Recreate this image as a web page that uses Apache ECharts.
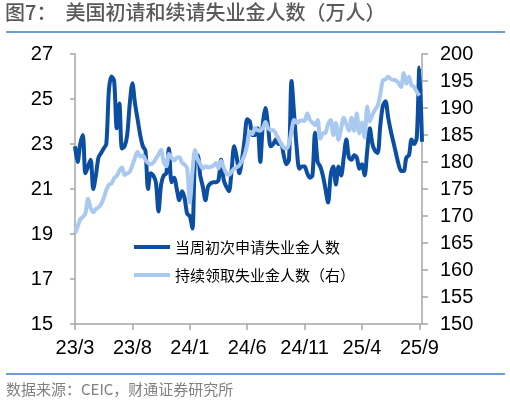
<!DOCTYPE html>
<html>
<head>
<meta charset="utf-8">
<script src="https://cdn.jsdelivr.net/npm/echarts@6/dist/echarts.min.js"></script>
<style>
html,body{margin:0;padding:0;background:#fff;}
#chart{width:510px;height:404px;}
</style>
</head>
<body>
<div id="chart"></div>
<script>
// Weekly data, first week ending 2023-03-04
var startDate = '2023-03-04';
var weekCount = 134;

var seriesNames = ['当周初次申请失业金人数', '持续领取失业金人数（右）'];

// 当周初次申请失业金人数（万人，左轴）
var initialClaims = [
  22.9, 22.2, 23.0, 23.4, 21.7, 22.0, 22.3, 21.0, 21.6, 22.4,
  22.6, 22.8, 23.0, 25.4, 26.0, 25.8, 23.7, 24.8, 22.8, 22.9,
  23.4, 24.8, 25.7, 24.8, 24.1, 23.4, 22.9, 22.7, 21.0, 21.7,
  21.6, 21.3, 20.0, 21.2, 21.6, 21.7, 22.8, 21.3, 21.5, 21.0,
  20.5, 20.9, 20.6, 19.9, 19.8, 19.25, 22.4, 22.5, 21.6, 21.1,
  20.5, 21.1, 21.25, 21.3, 21.3, 21.4, 22.3, 21.4, 21.1, 20.9,
  21.8, 22.9, 22.4, 21.7, 22.3, 23.2, 24.1, 24.0, 23.4, 23.4,
  23.7, 22.2, 23.9, 24.6, 23.8, 22.9, 23.0, 23.2, 23.0, 23.0,
  22.5, 22.1, 22.3, 25.8, 24.3, 22.8, 21.9, 22.0, 22.0, 21.7,
  21.5, 21.6, 23.5, 22.2, 22.0, 21.6, 21.0, 20.4, 21.6, 22.0,
  21.2, 22.0, 21.6, 22.4, 23.2, 22.4, 22.3, 22.5, 22.4, 21.9,
  22.1, 21.6, 22.7, 23.7, 23.0, 22.7, 22.6, 23.8, 24.7, 24.9,
  24.2, 23.6, 23.1, 22.6, 22.1, 21.8, 21.8, 22.4, 22.5, 23.2,
  23.0, 23.3, 26.4, 23.1
];

// 持续领取失业金人数（万人，右轴）
var continuingClaims = [
  166.8, 168.0, 169.4, 169.8, 170.5, 173.2, 171.5, 170.7, 171.3, 171.6,
  172.2, 173.3, 174.8, 175.8, 176.0, 177.0, 177.4, 178.4, 179.0, 177.6,
  177.9, 178.2, 179.4, 180.8, 181.9, 181.0, 181.2, 180.4, 179.8, 179.6,
  179.9, 180.6, 181.4, 182.2, 180.0, 179.2, 181.5, 180.8, 180.3, 180.8,
  180.9, 179.9, 179.5, 178.8, 172.5, 178.0, 182.2, 180.5, 179.6, 178.8,
  179.2, 179.0, 179.1, 179.3, 179.8, 178.8, 180.2, 179.0, 177.9, 177.6,
  178.2, 178.8, 179.0, 179.4, 180.2, 181.3, 183.2, 185.6, 185.2, 186.3,
  185.9, 185.8, 186.3, 187.4, 186.3, 185.9, 185.9, 185.2, 184.3, 183.4,
  182.7, 182.5, 183.3, 185.8, 187.8, 187.2, 187.6, 187.7, 187.6, 189.0,
  187.8, 187.3, 186.8, 187.8, 184.3, 185.3, 185.4, 187.0, 187.8, 185.0,
  187.2, 184.1, 186.2, 188.2, 187.0, 185.8, 188.2, 185.8, 189.0, 185.3,
  187.3, 184.6, 190.3, 187.5, 188.7, 189.7, 190.4, 192.5, 195.1, 195.3,
  195.8, 195.4, 195.2, 195.1, 194.6, 193.9, 196.5, 194.5, 195.8, 194.2,
  193.9, 193.0, 192.3, null
];

// weekly category dates
var categories = [];
(function () {
  var t0 = Date.parse(startDate + 'T00:00:00Z');
  for (var i = 0; i < weekCount; i++) {
    var d = new Date(t0 + i * 7 * 86400000);
    categories.push(d.toISOString().slice(0, 10));
  }
})();

function fmtLabel(v) {
  var p = v.split('-');
  return (parseInt(p[0], 10) % 100) + '/' + parseInt(p[1], 10);
}

var axisGrey = '#a6a6a6';
var numFont = 'Liberation Sans, Arial, sans-serif';
var cjkFont = 'Noto Sans CJK SC, sans-serif';

var chart = echarts.init(document.getElementById('chart'), null, {renderer: 'canvas'});
chart.setOption({
  backgroundColor: '#fff',
  animation: false,
  grid: {left: 75, right: 88, top: 54, bottom: 80, containLabel: false},
  graphic: [
    {type: 'text', left: 5, top: 2, style: {text: '图7：  美国初请和续请失业金人数（万人）', fill: '#595959', font: '500 20px ' + cjkFont}},
    {type: 'line', shape: {x1: 6, y1: 32, x2: 505, y2: 32}, style: {stroke: '#3d7cc9', lineWidth: 1.5}},
    {type: 'line', shape: {x1: 6, y1: 374, x2: 505, y2: 374}, style: {stroke: '#3d7cc9', lineWidth: 1.5}},
    {type: 'text', left: 6, top: 382, style: {text: '数据来源：CEIC，财通证券研究所', fill: '#808080', font: '15px ' + cjkFont}}
  ],
  legend: {
    orient: 'vertical',
    left: 134,
    top: 237,
    padding: 0,
    itemGap: 8,
    itemWidth: 36,
    itemHeight: 4,
    icon: 'rect',
    textStyle: {color: '#000', fontSize: 15, fontFamily: cjkFont, lineHeight: 20},
    data: seriesNames
  },
  xAxis: {
    type: 'category',
    data: categories,
    boundaryGap: false,
    axisLine: {lineStyle: {color: axisGrey, width: 1.5}},
    axisTick: {show: true, interval: 21, length: 6, lineStyle: {color: axisGrey, width: 1.5}},
    axisLabel: {interval: 21, margin: 14, color: '#000', fontSize: 20, fontFamily: numFont, formatter: fmtLabel},
    splitLine: {show: false}
  },
  yAxis: [
    {
      type: 'value', min: 15, max: 27, interval: 2, position: 'left',
      axisLine: {show: true, lineStyle: {color: axisGrey, width: 1.5}},
      axisTick: {show: true, length: 5, lineStyle: {color: axisGrey, width: 1.5}},
      axisLabel: {margin: 22, color: '#000', fontSize: 20, fontFamily: numFont},
      splitLine: {show: false}
    },
    {
      type: 'value', min: 150, max: 200, interval: 5, position: 'right',
      axisLine: {show: true, lineStyle: {color: axisGrey, width: 1.5}},
      axisTick: {show: true, length: 6, lineStyle: {color: axisGrey, width: 1.5}},
      axisLabel: {margin: 18, color: '#000', fontSize: 20, fontFamily: numFont},
      splitLine: {show: false}
    }
  ],
  series: [
    {
      name: seriesNames[0], type: 'line', yAxisIndex: 0, data: initialClaims,
      symbol: 'none', smooth: 0.3, z: 2,
      lineStyle: {color: '#0b4ea2', width: 4},
      itemStyle: {color: '#0b4ea2'}
    },
    {
      name: seriesNames[1], type: 'line', yAxisIndex: 1, data: continuingClaims,
      symbol: 'none', smooth: 0.3, z: 3,
      lineStyle: {color: '#a9c9f1', width: 4},
      itemStyle: {color: '#a9c9f1'}
    }
  ]
});
</script>
</body>
</html>
